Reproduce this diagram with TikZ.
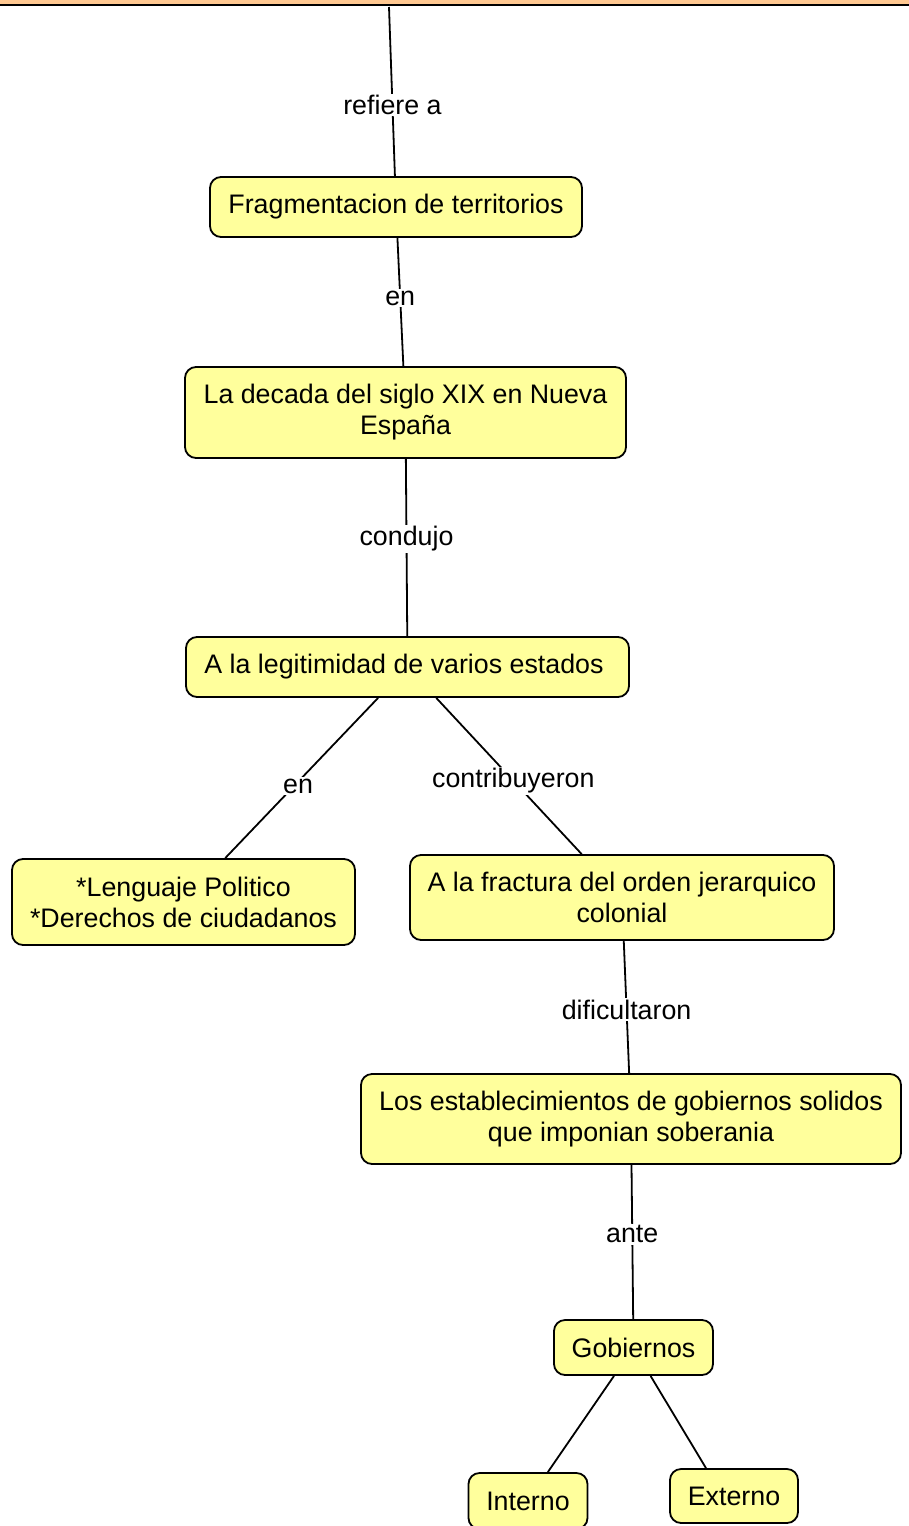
\documentclass[tikz,border=0pt]{standalone}
\usepackage{fontspec}
\setmainfont{Liberation Sans}
\begin{document}
\begin{tikzpicture}[x=1pt,y=-1pt,
  concept/.style={draw=black,line width=1.8pt,fill=conceptfill,rounded corners=11pt,
    inner sep=0pt,align=center,font=\fontsize{26.8}{31}\selectfont},
  link/.style={line width=1.8pt,draw=black},
  lbl/.style={fill=white,inner sep=1.5pt,font=\fontsize{26.8}{31}\selectfont}]
\definecolor{conceptfill}{HTML}{FFFF9C}
\definecolor{barfill}{HTML}{FFC891}
\useasboundingbox (0,0) rectangle (908,1526);
\fill[white] (0,0) rectangle (908,1526);
% top bar
\node[draw=black,line width=2pt,fill=barfill,minimum width=920pt,minimum height=26pt,inner sep=0pt,anchor=south] (bar) at (454,6) {};
\coordinate (t) at (389,7);
% concepts
\node[concept,minimum width=372pt,minimum height=60pt] (frag) at (396,207) {Fragmentacion de territorios};
\node[concept,minimum width=441pt,minimum height=91pt] (dec) at (405.5,412.5) {La decada del siglo XIX en Nueva\\España};
\node[concept,minimum width=443pt,minimum height=60pt] (leg) at (407.5,667) {A la legitimidad de varios estados\hspace*{7pt}};
\node[concept,minimum width=343pt,minimum height=86pt] (len) at (183.5,902) {*Lenguaje Politico\\*Derechos de ciudadanos};
\node[concept,minimum width=424pt,minimum height=85pt] (fra) at (622,897.5) {A la fractura del orden jerarquico\\colonial};
\node[concept,minimum width=540pt,minimum height=90pt] (est) at (631,1119) {Los establecimientos de gobiernos solidos\\que imponian soberania};
\node[concept,minimum width=159pt,minimum height=55pt] (gob) at (633.5,1347.5) {Gobiernos};
\node[concept,minimum width=119pt,minimum height=56pt] (int) at (528,1501) {Interno};
\node[concept,minimum width=128pt,minimum height=54pt] (ext) at (734,1496) {Externo};
% connectors
\draw[link] (t) -- (frag) node[lbl,pos=0.58] {refiere a};
\draw[link] (frag) -- (dec) node[lbl,pos=0.47] {en};
\draw[link] (dec) -- (leg) node[lbl,pos=0.45] {condujo};
\draw[link] (leg) -- (len) node[lbl,pos=0.55,xshift=4pt] {en};
\draw[link] (leg) -- (fra) node[lbl,pos=0.53] {contribuyeron};
\draw[link] (fra) -- (est) node[lbl,pos=0.52] {dificultaron};
\draw[link] (est) -- (gob) node[lbl,pos=0.45] {ante};
\draw[link] (gob) -- (int);
\draw[link] (gob) -- ([xshift=-28pt]ext.north);
\end{tikzpicture}
\end{document}
